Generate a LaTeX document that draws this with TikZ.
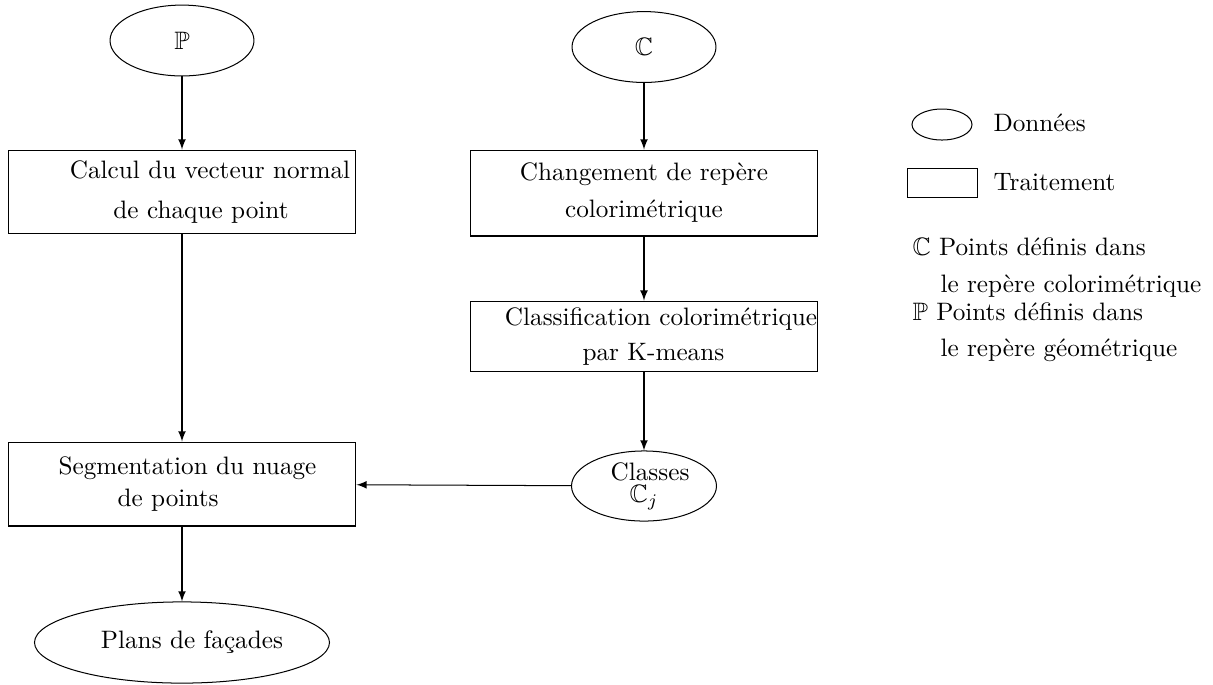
\documentclass[tikz,border=0pt]{standalone}
\usepackage{amssymb}
\usetikzlibrary{shapes.geometric}
\begin{document}
\begin{tikzpicture}[x=0.3966pt,y=-0.3966pt,
  data/.style={draw,ellipse,inner sep=0pt,minimum width=57.1pt,minimum height=28.1pt,align=center},
  proc/.style={draw,rectangle,inner xsep=0pt,inner ysep=2pt,minimum width=138pt,minimum height=33.3pt,align=center},
  flow/.style={-latex}]
\useasboundingbox (0,0) rectangle (1213,684);

% donnees et traitements
\node[data] (P) at (182,40.5) {$\mathbb{P}$};
\node[data] (C) at (644,47) {$\mathbb{C}$};
\node[proc] (normal) at (182,192) {\hspace*{22.2pt}Calcul du vecteur normal\\[4.2pt]\hspace*{15.1pt}de chaque point};
\node[proc,minimum height=34.1pt] (repere) at (644,193) {Changement de rep\`ere\\[2.7pt]colorim\'etrique};
\node[proc,minimum height=28.1pt] (kmeans) at (644,336.5) {\hspace*{13.5pt}Classification colorim\'etrique\\[1.9pt]\hspace*{7.5pt}par K-means};
\node[data,minimum width=57.5pt,minimum height=27.8pt] (classes) at (644,486) {\hspace*{4.8pt}Classes\\[-3.2pt]$\mathbb{C}_j$};
\node[proc] (segm) at (182,484) {\hspace*{4.4pt}Segmentation du nuage\\[0.5pt]de points\hspace*{11.1pt}\mbox{}};
\node[data,minimum width=117pt,minimum height=32.2pt] (plans) at (182,642.5) {\hspace*{7.9pt}Plans de fa\c{c}ades};

\draw[flow] (P) -- (normal);
\draw[flow] (C) -- (repere);
\draw[flow] (repere) -- (kmeans);
\draw[flow] (kmeans) -- (classes);
\draw[flow] (normal) -- (segm);
\draw[flow] (classes) -- (segm);
\draw[flow] (segm) -- (plans);

% legende
\node[draw,ellipse,inner sep=0pt,minimum width=23.8pt,minimum height=12.3pt] (legdata) at (942,124.5) {};
\node[draw,rectangle,inner sep=0pt,minimum width=27.4pt,minimum height=11.5pt] (legproc) at (942.5,182.5) {};
\node[anchor=base west,inner sep=0pt] (legdatatxt) at (993,131.7) {Donn\'ees};
\node[anchor=base west,inner sep=0pt] (legproctxt) at (993,190) {Traitement};
\node[anchor=base west,inner sep=0pt] (legC) at (912,255) {$\mathbb{C}$ Points d\'efinis dans};
\node[anchor=base west,inner sep=0pt] (legCb) at (940,292.7) {le rep\`ere colorim\'etrique};
\node[anchor=base west,inner sep=0pt] (legP) at (912,320) {$\mathbb{P}$ Points d\'efinis dans};
\node[anchor=base west,inner sep=0pt] (legPb) at (940,356.7) {le rep\`ere g\'eom\'etrique};
\end{tikzpicture}
\end{document}
